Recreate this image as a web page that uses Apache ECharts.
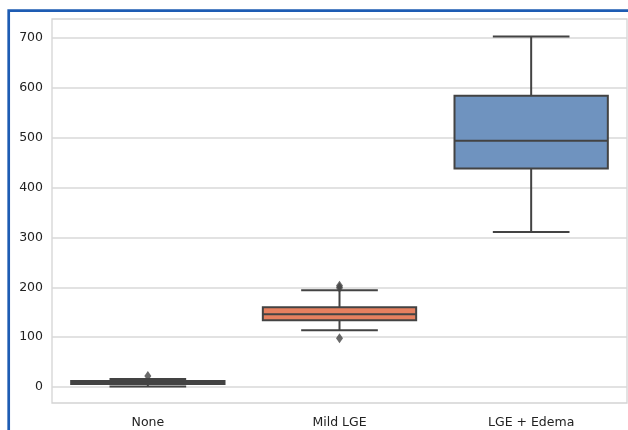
<!DOCTYPE html>
<html>
<head>
<meta charset="utf-8">
<script src="https://cdn.jsdelivr.net/npm/echarts@6/dist/echarts.min.js"></script>
<style>html,body{margin:0;padding:0;background:#fff;}#c{width:628px;height:430px;}</style>
</head>
<body>
<div id="c"></div>
<script>
// ---- data ----
const categories = ['None', 'Mild LGE', 'LGE + Edema'];
// [min, Q1, median, Q3, max]
const boxNone = [1, 6, 9, 12, 16];
const boxMild = [114, 134, 146, 160, 194];
const boxEdema = [311, 438, 494, 584, 703];
const outliersNone = [22];
const outliersMild = [98, 199, 203];
const outliersEdema = [];
const yTicks = [0, 100, 200, 300, 400, 500, 600, 700];
const boxColors = ['#5f8f75', '#e6805f', '#6f93bf'];

const boxes = [boxNone, boxMild, boxEdema];
const outs = [outliersNone, outliersMild, outliersEdema];
const LINE = '#434343';

const boxData = boxes.map((b, i) => [i].concat(b));
const outData = [];
outs.forEach((arr, i) => arr.forEach(v => outData.push([i, v])));

const chart = echarts.init(document.getElementById('c'), null, {renderer: 'canvas'});
chart.setOption({
  backgroundColor: '#ffffff',
  animation: false,
  grid: {left: 52, top: 19, width: 575, height: 384, show: true, borderColor: '#d4d4d4', borderWidth: 1.3, backgroundColor: 'transparent'},
  xAxis: {
    type: 'category', data: categories, boundaryGap: true,
    axisLine: {show: false}, axisTick: {show: false}, splitLine: {show: false},
    axisLabel: {fontFamily: 'DejaVu Sans', fontSize: 12.5, color: '#222', margin: 13}
  },
  yAxis: {
    type: 'value', min: -32, max: 738,
    axisLine: {show: false},
    axisTick: {show: false, customValues: yTicks},
    axisLabel: {fontFamily: 'DejaVu Sans', fontSize: 12.5, color: '#222', margin: 9, customValues: yTicks},
    splitLine: {show: true, lineStyle: {color: '#d8d8d8', width: 1.5}}
  },
  series: [
    {
      type: 'custom',
      data: boxData,
      encode: {x: 0, y: [1, 2, 3, 4, 5]},
      z: 3,
      renderItem: function (params, api) {
        const x = api.value(0);
        const band = api.size([1, 0])[0];
        const bw = band * 0.8, cw = band * 0.4;
        const pMin = api.coord([x, api.value(1)]);
        const pQ1 = api.coord([x, api.value(2)]);
        const pMed = api.coord([x, api.value(3)]);
        const pQ3 = api.coord([x, api.value(4)]);
        const pMax = api.coord([x, api.value(5)]);
        const cx = pMed[0];
        const ls = {stroke: LINE, lineWidth: 2, fill: null};
        const idx = params.dataIndex;
        return {
          type: 'group',
          children: [
            {type: 'line', shape: {x1: cx, y1: pMax[1], x2: cx, y2: pQ3[1]}, style: ls},
            {type: 'line', shape: {x1: cx, y1: pQ1[1], x2: cx, y2: pMin[1]}, style: ls},
            {type: 'line', shape: {x1: cx - cw / 2, y1: pMax[1], x2: cx + cw / 2, y2: pMax[1]}, style: ls},
            {type: 'line', shape: {x1: cx - cw / 2, y1: pMin[1], x2: cx + cw / 2, y2: pMin[1]}, style: ls},
            {type: 'rect', shape: {x: cx - bw / 2, y: pQ3[1], width: bw, height: pQ1[1] - pQ3[1]},
              style: {fill: boxColors[idx], stroke: LINE, lineWidth: 2}},
            {type: 'line', shape: {x1: cx - bw / 2, y1: pMed[1], x2: cx + bw / 2, y2: pMed[1]}, style: ls}
          ]
        };
      }
    },
    {
      type: 'scatter',
      data: outData,
      symbol: 'diamond',
      symbolSize: [7, 10],
      itemStyle: {color: LINE},
      z: 4
    }
  ],
  graphic: [
    {type: 'polyline', shape: {points: [[8.7, 432], [8.7, 10.7], [640, 10.7]]},
      style: {stroke: '#1e5cb3', lineWidth: 2.7, fill: null}, z: 100}
  ]
});
</script>
</body>
</html>
